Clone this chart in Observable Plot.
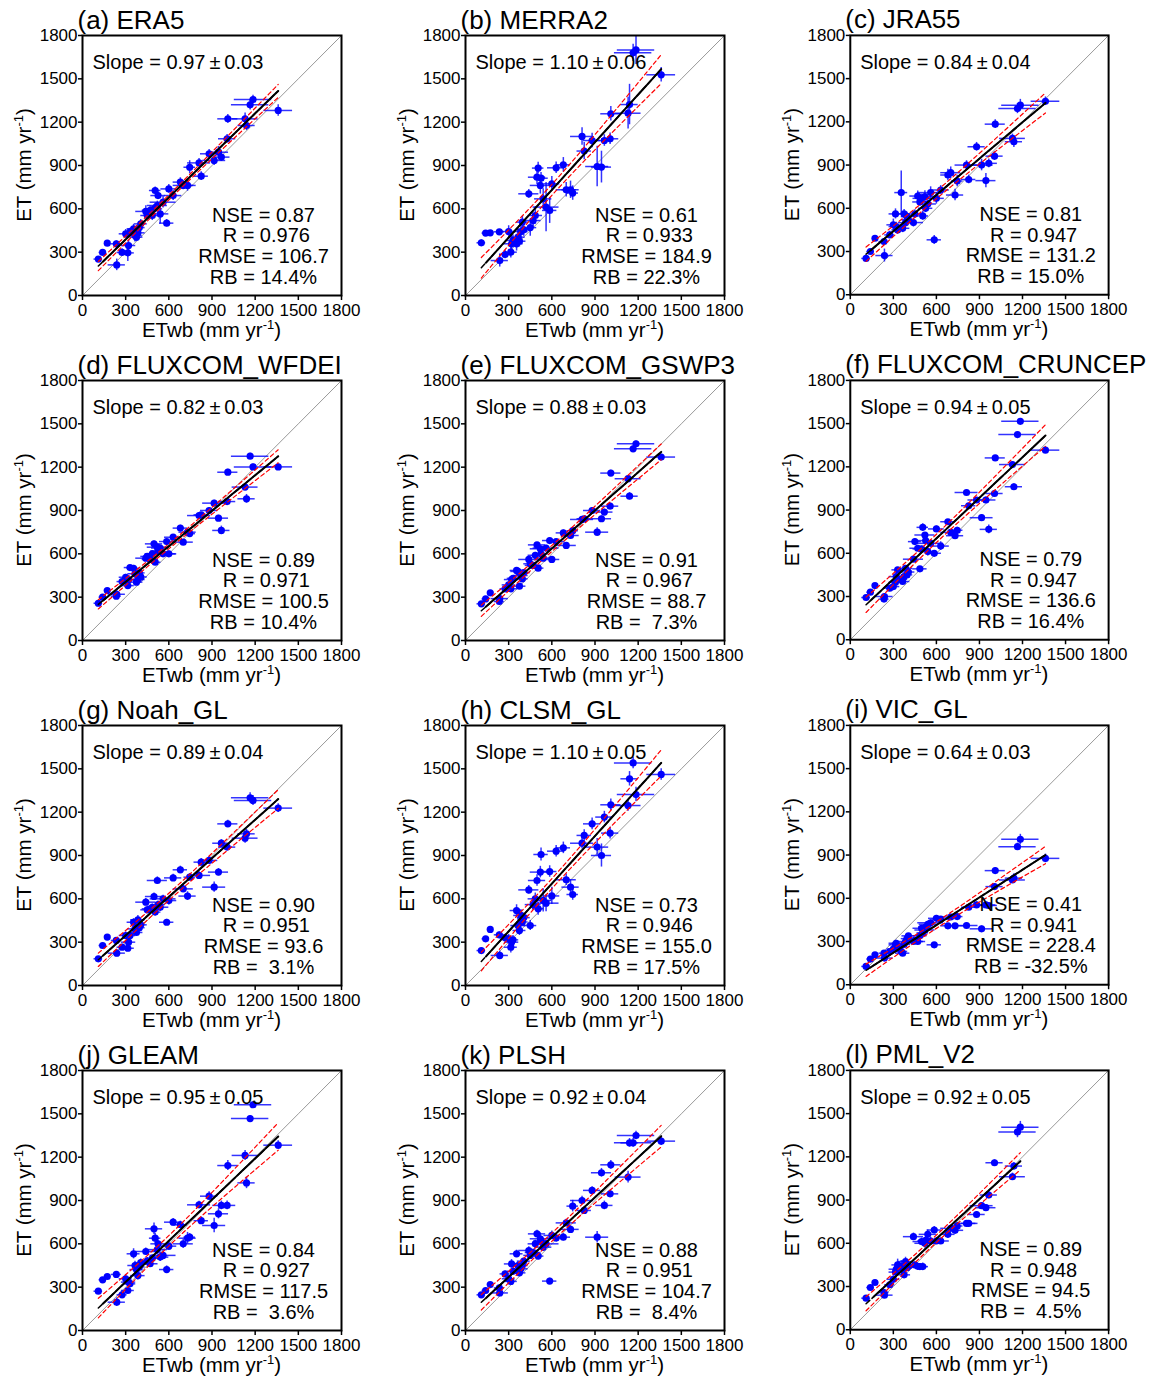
<!DOCTYPE html>
<html><head><meta charset="utf-8">
<script src="https://cdn.jsdelivr.net/npm/d3@7"></script>
<script src="https://cdn.jsdelivr.net/npm/@observablehq/plot@0.6"></script>
<style>
body{margin:0;background:#fff;font-family:"Liberation Sans",Arial,sans-serif;}
#wrap{position:relative;width:1151px;height:1378px;overflow:hidden;}
.cell{position:absolute;}
.cell svg{overflow:visible;}
.cell svg g[aria-label$="tick label"] text{font-size:17px;}
</style></head><body><div id="wrap"></div>
<script>
// ---------- data ----------
const panelLetters = ["a","b","c","d","e","f","g","h","i","j","k","l"];
const panelNames = ["ERA5","MERRA2","JRA55","FLUXCOM_WFDEI","FLUXCOM_GSWP3","FLUXCOM_CRUNCEP","Noah_GL","CLSM_GL","VIC_GL","GLEAM","PLSH","PML_V2"];
const axisTicks = [0,300,600,900,1200,1500,1800];

// water-balance ET of each basin (x) and its uncertainty
const etwb    = [110,140,172,235,238,275,300,315,320,330,355,365,375,385,395,405,440,450,470,485,497,505,520,525,540,560,585,600,630,680,700,730,745,810,825,880,915,945,965,1005,1010,1130,1140,1165,1185,1360];
const etwbErr = [30,25,15,35,60,35,45,45,50,40,45,50,45,50,40,45,70,45,55,50,60,40,70,50,60,90,50,55,60,50,70,60,40,80,50,60,80,70,60,60,70,90,60,130,130,100];

// product ET per basin
const etERA5   = [252,298,362,358,212,298,427,295,346,440,462,415,404,434,470,496,582,554,590,554,600,727,623,692,565,646,501,738,692,785,762,762,888,918,826,981,935,992,958,1085,1223,1223,1177,1320,1357,1281];
const etMERRA2 = [365,432,434,441,242,284,443,300,358,381,358,404,376,443,508,455,704,470,519,554,819,882,762,812,669,612,589,773,884,905,732,732,709,1101,1000,1073,893,889,1073,1085,1258,1262,1322,1680,1700,1528];
const etJRA55  = [252,300,392,369,272,415,485,561,473,450,709,461,561,500,542,520,501,560,685,644,669,547,681,600,630,709,381,669,727,831,847,692,789,900,800,1027,900,792,912,962,1184,1085,1062,1292,1316,1343];
const etWFDEI  = [258,300,346,307,320,408,438,380,420,505,500,462,404,422,468,440,570,582,561,600,669,542,646,620,640,600,685,600,715,778,681,750,740,865,870,900,951,847,762,962,1165,1062,981,1276,1202,1202];
const etGSWP3  = [254,288,330,270,290,358,385,358,422,430,485,478,376,450,427,470,561,531,520,590,662,501,635,600,570,640,692,561,685,745,658,727,760,838,843,900,750,843,889,930,1159,1120,999,1327,1362,1270];
const etCRUNCEP= [293,330,376,282,300,358,369,399,438,485,420,404,438,496,450,470,559,681,635,492,630,780,727,688,612,669,600,769,650,819,745,722,760,1022,930,970,847,970,766,1015,1262,1216,1062,1424,1516,1316];
const etNoah   = [185,277,335,312,224,265,346,258,300,346,438,392,367,455,400,420,577,524,531,540,616,508,727,560,542,600,438,588,745,801,669,619,750,762,854,866,681,785,985,958,1119,1020,1050,1299,1281,1228];
const etCLSM   = [242,323,388,351,208,330,323,265,300,316,519,415,381,485,440,470,662,415,560,600,727,531,785,907,589,570,789,620,930,953,732,681,630,985,1039,1119,958,900,1166,1055,1251,1246,1431,1541,1322,1461];
const etVIC    = [127,178,208,219,185,230,247,277,288,260,231,219,280,300,320,339,300,310,300,340,392,360,380,400,420,430,277,461,455,409,470,409,473,411,538,554,388,554,550,681,792,727,740,958,1009,877];
const etGLEAM  = [272,351,374,388,196,247,358,277,335,323,531,450,422,380,440,470,547,480,462,500,704,639,560,600,508,520,422,584,750,732,600,639,646,870,760,930,727,808,866,866,1142,1212,1022,1467,1563,1283];
const etPLSH   = [247,277,318,295,260,392,358,340,461,410,531,450,399,427,450,480,554,520,540,600,669,515,635,620,577,600,342,658,640,646,745,700,861,900,831,970,646,1092,866,946,1147,1062,1299,1299,1350,1311];
const etPML    = [219,293,328,258,240,312,350,400,420,450,440,415,381,473,430,440,646,450,440,438,612,438,600,620,662,616,692,616,616,662,704,690,720,738,738,800,861,847,935,1159,null,1062,1136,1373,1406,null];

// product ET uncertainty per basin
const errERA5   = [15,15,10,20,40,25,30,60,35,25,30,45,30,30,25,30,40,30,30,35,30,25,30,25,70,40,25,30,35,30,30,40,45,30,30,30,35,40,30,30,30,40,35,35,30,40];
const errMERRA2 = [20,15,15,15,45,30,40,40,60,40,50,60,40,50,40,45,30,60,50,60,50,40,60,40,70,170,90,50,40,50,50,60,50,60,60,50,140,110,40,40,50,110,140,60,100,50];
const errJRA55  = [15,15,10,15,45,25,40,35,30,30,150,30,30,30,30,30,30,30,35,30,30,30,40,30,30,40,30,40,30,40,40,40,40,30,30,30,40,50,30,30,30,30,40,35,40,30];
const errWFDEI  = [10,10,10,20,25,15,20,20,25,15,20,25,15,20,15,20,15,15,15,20,20,20,20,15,20,25,15,20,15,20,15,20,15,15,15,20,20,20,30,20,20,20,30,20,20,20];
const errGSWP3  = [10,10,10,15,20,15,15,15,20,15,20,20,15,20,15,20,15,15,15,20,15,15,20,15,20,20,15,20,15,20,15,20,20,15,15,20,30,20,20,20,20,20,25,20,20,20];
const errCRUNCEP= [15,10,10,15,20,15,15,20,25,15,20,20,15,20,15,15,20,20,20,15,20,25,15,20,30,20,15,20,30,15,20,20,20,15,15,15,20,20,30,15,15,20,20,15,15,20];
const errNoah   = [10,10,10,20,25,20,25,20,25,20,25,25,20,30,25,20,25,25,25,25,25,25,25,25,30,25,20,30,25,25,25,30,25,25,25,25,35,25,25,25,25,35,30,35,35,30];
const errCLSM   = [15,15,15,20,30,25,30,40,30,30,40,50,35,40,30,30,30,35,35,40,40,45,40,45,80,60,40,60,40,40,40,50,40,40,40,40,60,80,40,40,40,40,50,40,50,40];
const errVIC    = [10,10,10,15,15,15,15,15,20,15,15,15,15,20,15,15,15,15,15,20,15,15,20,15,20,20,15,20,15,15,20,15,15,15,15,20,20,20,15,20,20,20,30,25,35,30];
const errGLEAM  = [10,10,10,15,30,20,30,20,25,25,35,30,20,30,25,25,25,25,25,25,40,35,35,25,30,30,25,30,25,25,30,40,25,25,25,30,50,35,30,30,35,35,40,20,20,30];
const errPLSH   = [10,10,15,20,25,20,25,20,30,25,25,25,20,25,20,20,25,25,25,25,25,25,40,25,30,25,20,30,25,25,25,25,40,30,25,25,40,30,30,25,30,40,30,30,30,30];
const errPML    = [10,15,15,20,20,20,25,25,30,40,40,30,25,30,25,25,25,20,20,20,25,25,35,25,30,25,25,25,20,25,20,20,25,20,20,20,20,20,25,20,0,25,25,40,40,0];

// regression statistics
const slopes     = [0.97,1.10,0.84,0.82,0.88,0.94,0.89,1.10,0.64,0.95,0.92,0.92];
const slopeErrs  = [0.03,0.06,0.04,0.03,0.03,0.05,0.04,0.05,0.03,0.05,0.04,0.05];
const intercepts = [97,71,189,160,109,139,80,45,30,51,94,79];
const bandHalf   = [45,100,70,45,55,75,65,90,60,95,75,60];
const nseVals  = ["0.87","0.61","0.81","0.89","0.91","0.79","0.90","0.73","0.41","0.84","0.88","0.89"];
const rVals    = ["0.976","0.933","0.947","0.971","0.967","0.947","0.951","0.946","0.941","0.927","0.951","0.948"];
const rmseVals = ["106.7","184.9","131.2","100.5","88.7","136.6","93.6","155.0","228.4","117.5","104.7","94.5"];
const rbVals   = ["14.4%","22.3%","15.0%","10.4%"," 7.3%","16.4%"," 3.1%","17.5%","-32.5%"," 3.6%"," 8.4%"," 4.5%"];

const etPanels  = [etERA5,etMERRA2,etJRA55,etWFDEI,etGSWP3,etCRUNCEP,etNoah,etCLSM,etVIC,etGLEAM,etPLSH,etPML];
const errPanels = [errERA5,errMERRA2,errJRA55,errWFDEI,errGSWP3,errCRUNCEP,errNoah,errCLSM,errVIC,errGLEAM,errPLSH,errPML];

// ---------- drawing ----------
const FONT = "'Liberation Sans', Arial, Helvetica, sans-serif";
const BLUE = "#0000ff";
const colLeft = [0,383,768];
const wrap = document.getElementById("wrap");

panelNames.forEach((name, i) => {
  const ys = etPanels[i], ye = errPanels[i];
  const rows = etwb.map((x,k)=>({x, xe: etwbErr[k], y: ys[k], ye: ye[k]})).filter(d=>d.y!=null);
  const xs = rows.map(d=>d.x);
  const n = xs.length, xm = d3.mean(xs), sxx = d3.sum(xs, x=>(x-xm)**2);
  const [xmin, xmax] = d3.extent(xs);
  const f = x => Math.sqrt(1/n + (x-xm)**2/sxx);
  const fmax = Math.max(f(xmin), f(xmax));
  const fit = d3.range(41).map(k => {
    const x = xmin + (xmax-xmin)*k/40;
    const yy = intercepts[i] + slopes[i]*x;
    const h = bandHalf[i]*f(x)/fmax;
    return {x, fit: yy, lo: yy-h, hi: yy+h};
  });
  const solid = fit.filter(d => d.x >= xs[1]);
  const slopeLabel = `Slope = ${slopes[i].toFixed(2)}\u2009±\u2009${slopeErrs[i].toFixed(2)}`;
  const stats = `NSE = ${nseVals[i]}\n R = ${rVals[i]}\nRMSE = ${rmseVals[i]}\nRB = ${rbVals[i]}`;

  const svg = Plot.plot({
    width: 384, height: 345,
    marginLeft: 82, marginRight: 43, marginTop: 35, marginBottom: 50,
    style: {fontFamily: FONT, fontSize: "17px", color: "black", background: "transparent"},
    x: {domain: d3.extent(axisTicks)},
    y: {domain: d3.extent(axisTicks)},
    marks: [
      Plot.line(axisTicks, {x: d=>d, y: d=>d, stroke: "#999999", strokeWidth: 1}),
      Plot.ruleY(rows, {y: "y", x1: d=>d.x-d.xe, x2: d=>d.x+d.xe, stroke: BLUE, strokeWidth: 1.5, strokeOpacity: 0.8}),
      Plot.ruleX(rows, {x: "x", y1: d=>d.y-d.ye, y2: d=>d.y+d.ye, stroke: BLUE, strokeWidth: 1.5, strokeOpacity: 0.8}),
      Plot.dot(rows, {x: "x", y: "y", r: 3.6, fill: BLUE, stroke: "none"}),
      Plot.line(fit, {x: "x", y: "lo", stroke: "#ff0000", strokeWidth: 1.2, strokeDasharray: "4,3"}),
      Plot.line(fit, {x: "x", y: "hi", stroke: "#ff0000", strokeWidth: 1.2, strokeDasharray: "4,3"}),
      Plot.line(fit, {x: "x", y: "fit", stroke: "black", strokeWidth: 1.5, strokeDasharray: "5,3"}),
      Plot.line(solid, {x: "x", y: "fit", stroke: "black", strokeWidth: 2}),
      Plot.text([slopeLabel], {frameAnchor: "top-left", dx: 10, dy: 27, text: d=>d, textAnchor: "start", lineAnchor: "middle", fontSize: 20, fill: "black"}),
      Plot.text([stats], {frameAnchor: "bottom-left", dx: 181, dy: -12, text: d=>d, textAnchor: "middle", lineAnchor: "bottom", fontSize: 20, lineHeight: 1.03, fill: "black"}),
      Plot.text([`(${panelLetters[i]}) ${name}`], {frameAnchor: "top-left", dx: -5, dy: -7, text: d=>d, textAnchor: "start", lineAnchor: "bottom", fontSize: 26, fill: "black"}),
      Plot.axisX({ticks: axisTicks, tickSize: 5, tickPadding: 3, tickFormat: d=>String(d), label: null, strokeWidth: 1.5}),
      Plot.axisY({ticks: axisTicks, tickSize: 4, tickPadding: 1, tickFormat: d=>String(d), label: null, strokeWidth: 1.5}),
      Plot.frame({stroke: "black", strokeWidth: 2})
    ]
  });

  // axis titles with superscripts
  const s = d3.select(svg);
  const xl = s.append("text").attr("x", 82 + 129.5).attr("y", 337)
    .attr("text-anchor", "middle").attr("font-size", 20.5).attr("font-family", FONT).attr("fill", "black");
  xl.append("tspan").text("ETwb (mm yr");
  xl.append("tspan").attr("dy", -8).attr("font-size", 13).text("-1");
  xl.append("tspan").attr("dy", 8).text(")");
  const yl = s.append("text").attr("transform", `translate(31,165) rotate(-90)`)
    .attr("text-anchor", "middle").attr("font-size", 20.5).attr("font-family", FONT).attr("fill", "black");
  yl.append("tspan").text("ET (mm yr");
  yl.append("tspan").attr("dy", -8).attr("font-size", 13).text("-1");
  yl.append("tspan").attr("dy", 8).text(")");

  const cell = document.createElement("div");
  cell.className = "cell";
  cell.style.left = colLeft[i % 3] + "px";
  cell.style.top = (Math.floor(i / 3) * 345) + "px";
  cell.appendChild(svg);
  wrap.appendChild(cell);
});
</script>
</body></html>
